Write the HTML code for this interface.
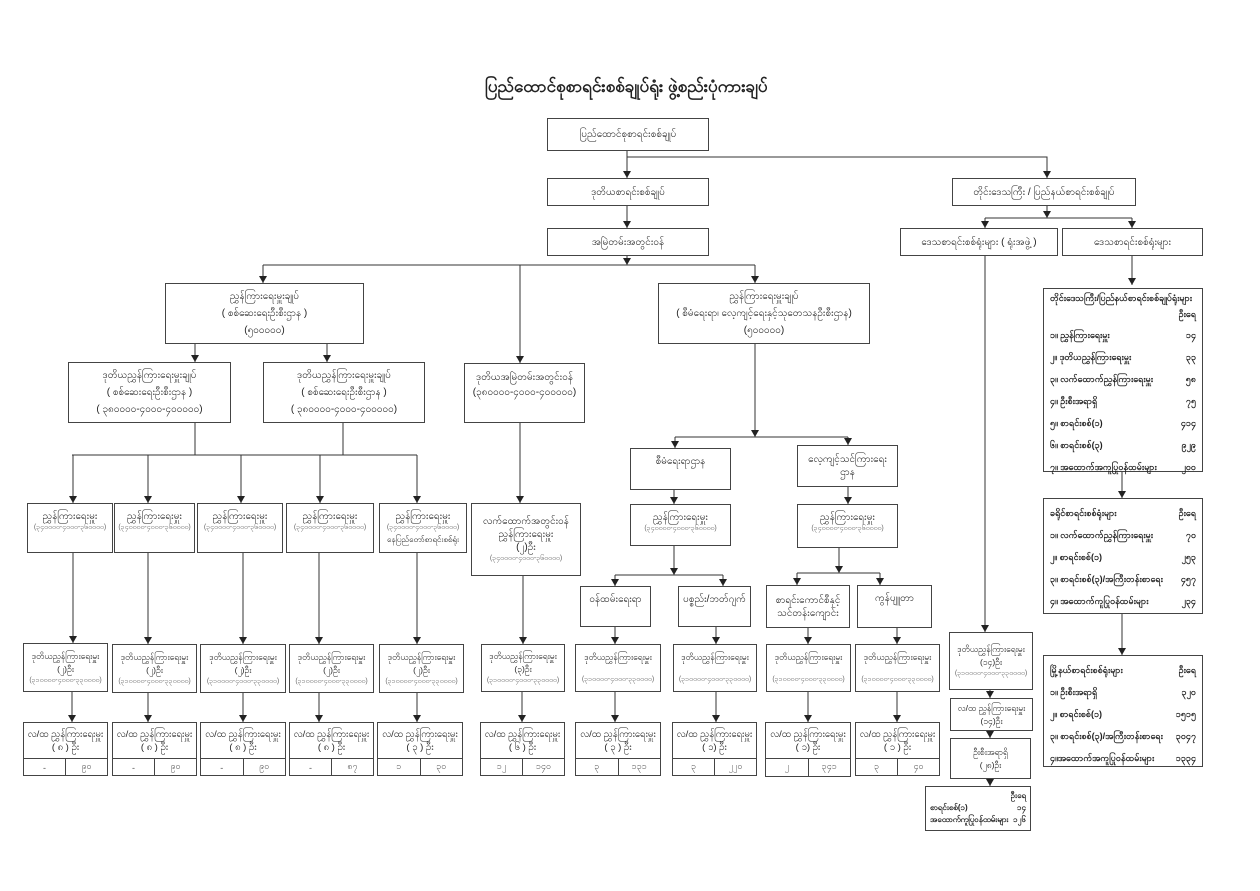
<!DOCTYPE html>
<html><head><meta charset="utf-8"><style>
body{margin:0;width:1260px;height:891px;background:#fff;position:relative;overflow:hidden;font-family:"Liberation Sans","Noto Sans CJK SC",sans-serif;color:#222}
.b{position:absolute;border:1px solid #444;box-sizing:border-box;display:flex;flex-direction:column;align-items:center;justify-content:center;text-align:center;font-size:10px;line-height:13px;background:#fff}
.b.tall{line-height:17px}
.s{font-size:7px;color:#666;line-height:10px}
.t{position:absolute;border:1px solid #444;box-sizing:border-box;font-size:9.5px;font-weight:bold;padding:4px 6px;background:#fff}
.r{display:flex;justify-content:space-between;height:22px;align-items:center}
.ls{position:absolute;box-sizing:border-box;border:1px solid #444;font-size:9.5px;background:#fff}
.ls .top{height:35px;display:flex;flex-direction:column;align-items:center;justify-content:center;text-align:center;line-height:13px;border-bottom:1px solid #444}
.ls .bot{display:flex;height:17px;font-size:9px;color:#555}
.ls .bot div{flex:1;display:flex;align-items:center;justify-content:center}
.ls .bot div:first-child{border-right:1px solid #444}
</style></head><body>
<svg width="1260" height="891" style="position:absolute;left:0;top:0">
<defs>
<marker id="d" markerWidth="8" markerHeight="8" refX="4" refY="7" markerUnits="userSpaceOnUse"><path d="M0,0 L8,0 L4,7 z" fill="#222"/></marker></defs>
<g stroke="#333" stroke-width="1" fill="none">
<path d="M627,150V178" marker-end="url(#d)"/><path d="M627,157H1047V178" marker-end="url(#d)"/>
<path d="M627,205V228" marker-end="url(#d)"/>
<path d="M1047,205V218" marker-end="url(#d)"/><path d="M985,218H1132"/><path d="M985,218V228" marker-end="url(#d)"/><path d="M1132,218V228" marker-end="url(#d)"/>
<path d="M627,255V265" marker-end="url(#d)"/><path d="M263,265H755"/><path d="M263,265V283" marker-end="url(#d)"/><path d="M520,265V363" marker-end="url(#d)"/><path d="M755,265V283" marker-end="url(#d)"/>
<path d="M195,343V362" marker-end="url(#d)"/><path d="M327,343V362" marker-end="url(#d)"/>
<path d="M195,422V455"/><path d="M343,422V455"/><path d="M72,455H417"/>
<path d="M73,455V503" marker-end="url(#d)"/><path d="M148,455V503" marker-end="url(#d)"/><path d="M241,455V503" marker-end="url(#d)"/><path d="M320,455V503" marker-end="url(#d)"/><path d="M417,455V503" marker-end="url(#d)"/>
<path d="M520,422V503" marker-end="url(#d)"/>
<path d="M755,344V437" marker-end="url(#d)"/><path d="M675,437H848"/><path d="M675,437V448" marker-end="url(#d)"/><path d="M848,437V445" marker-end="url(#d)"/>
<path d="M674,489V504" marker-end="url(#d)"/><path d="M848,486V504" marker-end="url(#d)"/>
<path d="M674,545V575" marker-end="url(#d)"/><path d="M615,575H723"/><path d="M615,575V586" marker-end="url(#d)"/><path d="M723,575V586" marker-end="url(#d)"/>
<path d="M839,547V573" marker-end="url(#d)"/><path d="M797,573H880"/><path d="M797,573V585" marker-end="url(#d)"/><path d="M880,573V585" marker-end="url(#d)"/>
<path d="M73,552V643" marker-end="url(#d)"/><path d="M148,552V644" marker-end="url(#d)"/><path d="M243,552V644" marker-end="url(#d)"/><path d="M319,552V644" marker-end="url(#d)"/><path d="M417,552V644" marker-end="url(#d)"/>
<path d="M523,575V644" marker-end="url(#d)"/><path d="M615,626V644" marker-end="url(#d)"/><path d="M716,626V644" marker-end="url(#d)"/><path d="M808,627V644" marker-end="url(#d)"/><path d="M897,627V644" marker-end="url(#d)"/>
<path d="M72,691V722" marker-end="url(#d)"/><path d="M148,692V722" marker-end="url(#d)"/><path d="M243,692V722" marker-end="url(#d)"/><path d="M319,692V722" marker-end="url(#d)"/><path d="M417,692V722" marker-end="url(#d)"/>
<path d="M522,691V722" marker-end="url(#d)"/><path d="M615,691V722" marker-end="url(#d)"/><path d="M716,691V722" marker-end="url(#d)"/><path d="M808,691V722" marker-end="url(#d)"/><path d="M897,691V722" marker-end="url(#d)"/>
<path d="M985,255V632" marker-end="url(#d)"/><path d="M990,690V698" marker-end="url(#d)"/><path d="M990,730V738" marker-end="url(#d)"/><path d="M990,778V786" marker-end="url(#d)"/>
<path d="M1132,255V285" marker-end="url(#d)"/><path d="M1122,471V498" marker-end="url(#d)"/><path d="M1122,613V655" marker-end="url(#d)"/>
</g></svg>

<div style="position:absolute;left:485px;top:76px;font-size:17px;font-weight:bold;font-family:'Liberation Sans',sans-serif">ပြည်ထောင်စုစာရင်းစစ်ချုပ်ရုံး ဖွဲ့စည်းပုံကားချပ်</div>

<div class="b" style="left:547px;top:118px;width:162px;height:33px">ပြည်ထောင်စုစာရင်းစစ်ချုပ်</div>
<div class="b" style="left:547px;top:178px;width:162px;height:28px">ဒုတိယစာရင်းစစ်ချုပ်</div>
<div class="b" style="left:547px;top:228px;width:162px;height:28px">အမြဲတမ်းအတွင်းဝန်</div>
<div class="b" style="left:952px;top:178px;width:184px;height:28px">တိုင်းဒေသကြီး / ပြည်နယ်စာရင်းစစ်ချုပ်</div>
<div class="b" style="left:900px;top:228px;width:158px;height:28px">ဒေသစာရင်းစစ်ရုံးများ ( ရုံးအဖွဲ့ )</div>
<div class="b" style="left:1062px;top:228px;width:141px;height:28px">ဒေသစာရင်းစစ်ရုံးများ</div>

<div class="b tall" style="left:165px;top:283px;width:199px;height:61px">ညွှန်ကြားရေးမှူးချုပ်<br>( စစ်ဆေးရေးဦးစီးဌာန )<br>(၅၀၀၀၀၀)</div>
<div class="b tall" style="left:658px;top:283px;width:212px;height:61px">ညွှန်ကြားရေးမှူးချုပ်<br>( စီမံရေးရာ၊ လေ့ကျင့်ရေးနှင့်သုတေသနဦးစီးဌာန)<br>(၅၀၀၀၀၀)</div>

<div class="b tall" style="left:68px;top:362px;width:163px;height:61px">ဒုတိယညွှန်ကြားရေးမှူးချုပ်<br>( စစ်ဆေးရေးဦးစီးဌာန )<br>( ၃၈၀၀၀၀-၄၀၀၀-၄၀၀၀၀၀)</div>
<div class="b tall" style="left:263px;top:362px;width:162px;height:61px">ဒုတိယညွှန်ကြားရေးမှူးချုပ်<br>( စစ်ဆေးရေးဦးစီးဌာန )<br>( ၃၈၀၀၀၀-၄၀၀၀-၄၀၀၀၀၀)</div>
<div class="b" style="left:464px;top:363px;width:121px;height:60px;justify-content:flex-start;padding-top:6px;line-height:15px">ဒုတိယအမြဲတမ်းအတွင်းဝန်<br>(၃၈၀၀၀၀-၄၀၀၀-၄၀၀၀၀၀)</div>

<div class="b" style="left:27px;top:503px;width:86px;height:50px;justify-content:flex-start;padding-top:6px">ညွှန်ကြားရေးမှူး<span class="s">(၃၄၀၀၀၀-၄၀၀၀-၃၆၀၀၀၀)</span></div>
<div class="b" style="left:114px;top:503px;width:81px;height:50px;justify-content:flex-start;padding-top:6px">ညွှန်ကြားရေးမှူး<span class="s">(၃၄၀၀၀၀-၄၀၀၀-၃၆၀၀၀၀)</span></div>
<div class="b" style="left:197px;top:503px;width:86px;height:50px;justify-content:flex-start;padding-top:6px">ညွှန်ကြားရေးမှူး<span class="s">(၃၄၀၀၀၀-၄၀၀၀-၃၆၀၀၀၀)</span></div>
<div class="b" style="left:286px;top:503px;width:88px;height:50px;justify-content:flex-start;padding-top:6px">ညွှန်ကြားရေးမှူး<span class="s">(၃၄၀၀၀၀-၄၀၀၀-၃၆၀၀၀၀)</span></div>
<div class="b" style="left:379px;top:503px;width:88px;height:50px;justify-content:flex-start;padding-top:6px">ညွှန်ကြားရေးမှူး<span class="s">(၃၄၀၀၀၀-၄၀၀၀-၃၆၀၀၀၀)</span><span style="font-size:8px">နေပြည်တော်စာရင်းစစ်ရုံး</span></div>

<div class="b" style="left:471px;top:503px;width:110px;height:73px">လက်ထောက်အတွင်းဝန်<br>ညွှန်ကြားရေးမှူး<br>(၂)ဦး<span class="s">(၃၄၀၀၀၀-၄၀၀၀-၃၆၀၀၀၀)</span></div>

<div class="b" style="left:630px;top:448px;width:101px;height:42px;justify-content:flex-start;padding-top:6px">စီမံရေးရာဌာန</div>
<div class="b" style="left:797px;top:445px;width:101px;height:42px">လေ့ကျင့်သင်ကြားရေး<br>ဌာန</div>
<div class="b" style="left:630px;top:504px;width:101px;height:42px;justify-content:flex-start;padding-top:6px">ညွှန်ကြားရေးမှူး<span class="s">(၃၄၀၀၀၀-၄၀၀၀-၃၆၀၀၀၀)</span></div>
<div class="b" style="left:797px;top:504px;width:101px;height:44px;justify-content:flex-start;padding-top:6px">ညွှန်ကြားရေးမှူး<span class="s">(၃၄၀၀၀၀-၄၀၀၀-၃၆၀၀၀၀)</span></div>

<div class="b" style="left:580px;top:586px;width:71px;height:41px;justify-content:flex-start;padding-top:6px">ဝန်ထမ်းရေးရာ</div>
<div class="b" style="left:678px;top:586px;width:73px;height:41px;justify-content:flex-start;padding-top:6px">ပစ္စည်း/ဘတ်ဂျက်</div>
<div class="b" style="left:766px;top:585px;width:84px;height:43px">စာရင်းကောင်စီနှင့်<br>သင်တန်းကျောင်း</div>
<div class="b" style="left:857px;top:585px;width:75px;height:43px;justify-content:flex-start;padding-top:6px">ကွန်ပျူတာ</div>

<div class="b" style="left:23px;top:643px;width:85px;height:49px;font-size:8.5px">ဒုတိယညွှန်ကြားရေးမှူး<br>(၂)ဦး<span class="s">(၃၁၀၀၀၀-၄၀၀၀-၃၃၀၀၀၀)</span></div>
<div class="b" style="left:112px;top:644px;width:85px;height:49px;font-size:8.5px">ဒုတိယညွှန်ကြားရေးမှူး<br>(၂)ဦး<span class="s">(၃၁၀၀၀၀-၄၀၀၀-၃၃၀၀၀၀)</span></div>
<div class="b" style="left:200px;top:644px;width:86px;height:49px;font-size:8.5px">ဒုတိယညွှန်ကြားရေးမှူး<br>(၂)ဦး<span class="s">(၃၁၀၀၀၀-၄၀၀၀-၃၃၀၀၀၀)</span></div>
<div class="b" style="left:289px;top:644px;width:85px;height:49px;font-size:8.5px">ဒုတိယညွှန်ကြားရေးမှူး<br>(၂)ဦး<span class="s">(၃၁၀၀၀၀-၄၀၀၀-၃၃၀၀၀၀)</span></div>
<div class="b" style="left:379px;top:644px;width:85px;height:49px;font-size:8.5px">ဒုတိယညွှန်ကြားရေးမှူး<br>(၂)ဦး<span class="s">(၃၁၀၀၀၀-၄၀၀၀-၃၃၀၀၀၀)</span></div>
<div class="b" style="left:481px;top:644px;width:84px;height:48px;font-size:8.5px">ဒုတိယညွှန်ကြားရေးမှူး<br>(၃)ဦး<span class="s">(၃၁၀၀၀၀-၄၀၀၀-၃၃၀၀၀၀)</span></div>
<div class="b" style="left:575px;top:644px;width:86px;height:48px;font-size:8.5px;justify-content:space-around">ဒုတိယညွှန်ကြားရေးမှူး<span class="s">(၃၁၀၀၀၀-၄၀၀၀-၃၃၀၀၀၀)</span></div>
<div class="b" style="left:673px;top:644px;width:84px;height:48px;font-size:8.5px;justify-content:space-around">ဒုတိယညွှန်ကြားရေးမှူး<span class="s">(၃၁၀၀၀၀-၄၀၀၀-၃၃၀၀၀၀)</span></div>
<div class="b" style="left:766px;top:644px;width:85px;height:48px;font-size:8.5px;justify-content:space-around">ဒုတိယညွှန်ကြားရေးမှူး<span class="s">(၃၁၀၀၀၀-၄၀၀၀-၃၃၀၀၀၀)</span></div>
<div class="b" style="left:855px;top:644px;width:85px;height:48px;font-size:8.5px;justify-content:space-around">ဒုတိယညွှန်ကြားရေးမှူး<span class="s">(၃၁၀၀၀၀-၄၀၀၀-၃၃၀၀၀၀)</span></div>

<div class="ls" style="left:23px;top:722px;width:85px;height:54px"><div class="top">လ/ထ ညွှန်ကြားရေးမှူး<br>( ၈ ) ဦး</div><div class="bot"><div>-</div><div>၉၀</div></div></div>
<div class="ls" style="left:112px;top:722px;width:85px;height:54px"><div class="top">လ/ထ ညွှန်ကြားရေးမှူး<br>( ၈ ) ဦး</div><div class="bot"><div>-</div><div>၉၀</div></div></div>
<div class="ls" style="left:200px;top:722px;width:86px;height:54px"><div class="top">လ/ထ ညွှန်ကြားရေးမှူး<br>( ၈ ) ဦး</div><div class="bot"><div>-</div><div>၉၀</div></div></div>
<div class="ls" style="left:289px;top:722px;width:85px;height:54px"><div class="top">လ/ထ ညွှန်ကြားရေးမှူး<br>( ၈ ) ဦး</div><div class="bot"><div>-</div><div>၈၇</div></div></div>
<div class="ls" style="left:377px;top:722px;width:86px;height:54px"><div class="top">လ/ထ ညွှန်ကြားရေးမှူး<br>( ၃ ) ဦး</div><div class="bot"><div>၁</div><div>၃၀</div></div></div>
<div class="ls" style="left:480px;top:722px;width:85px;height:54px"><div class="top">လ/ထ ညွှန်ကြားရေးမှူး<br>( ၆ ) ဦး</div><div class="bot"><div>၁၂</div><div>၁၄၀</div></div></div>
<div class="ls" style="left:575px;top:722px;width:86px;height:54px"><div class="top">လ/ထ ညွှန်ကြားရေးမှူး<br>( ၃ ) ဦး</div><div class="bot"><div>၃</div><div>၁၃၁</div></div></div>
<div class="ls" style="left:672px;top:722px;width:85px;height:54px"><div class="top">လ/ထ ညွှန်ကြားရေးမှူး<br>( ၁) ဦး</div><div class="bot"><div>၃</div><div>၂၂၀</div></div></div>
<div class="ls" style="left:765px;top:722px;width:86px;height:55px"><div class="top">လ/ထ ညွှန်ကြားရေးမှူး<br>( ၁) ဦး</div><div class="bot"><div>၂</div><div>၃၄၁</div></div></div>
<div class="ls" style="left:855px;top:722px;width:85px;height:54px"><div class="top">လ/ထ ညွှန်ကြားရေးမှူး<br>( ၁ ) ဦး</div><div class="bot"><div>၃</div><div>၄၀</div></div></div>

<div class="b" style="left:949px;top:632px;width:84px;height:58px;font-size:8.5px">ဒုတိယညွှန်ကြားရေးမှူး<br>(၁၄)ဦး<span class="s">(၃၁၀၀၀၀-၄၀၀၀-၃၃၀၀၀၀)</span></div>
<div class="b" style="left:950px;top:698px;width:83px;height:33px;font-size:8.5px">လ/ထ ညွှန်ကြားရေးမှူး<br>(၁၄)ဦး</div>
<div class="b" style="left:950px;top:738px;width:81px;height:41px;font-size:8.5px">ဦးစီးအရာရှိ<br>(၂၈)ဦး</div>
<div class="t" style="left:925px;top:786px;width:106px;height:45px;font-size:8px;padding:3px 4px;line-height:12px"><div style="text-align:right">ဦးရေ</div><div style="display:flex;justify-content:space-between"><span>စာရင်းစစ်(၁)</span><span>၁၄</span></div><div style="display:flex;justify-content:space-between"><span>အထောက်ကူပြုဝန်ထမ်းများ</span><span>၁၂၆</span></div></div>

<div class="t" style="left:1043px;top:288px;width:160px;height:184px;font-size:9px">
<div style="height:16px">တိုင်းဒေသကြီး/ပြည်နယ်စာရင်းစစ်ချုပ်ရုံးများ</div>
<div style="text-align:right;height:16px">ဦးရေ</div>
<div class="r"><span>၁။ ညွှန်ကြားရေးမှူး</span><span>၁၄</span></div>
<div class="r"><span>၂။ ဒုတိယညွှန်ကြားရေးမှူး</span><span>၃၃</span></div>
<div class="r"><span>၃။ လက်ထောက်ညွှန်ကြားရေးမှူး</span><span>၅၈</span></div>
<div class="r"><span>၄။ ဦးစီးအရာရှိ</span><span>၇၅</span></div>
<div class="r"><span>၅။ စာရင်းစစ်(၁)</span><span>၄၁၄</span></div>
<div class="r"><span>၆။ စာရင်းစစ်(၃)</span><span>၉၂၉</span></div>
<div class="r"><span>၇။ အထောက်အကူပြုဝန်ထမ်းများ</span><span>၂၀၀</span></div>
</div>
<div class="t" style="left:1043px;top:498px;width:160px;height:116px;font-size:9px">
<div class="r"><span>ခရိုင်စာရင်းစစ်ရုံးများ</span><span>ဦးရေ</span></div>
<div class="r"><span>၁။ လက်ထောက်ညွှန်ကြားရေးမှူး</span><span>၇၀</span></div>
<div class="r"><span>၂။ စာရင်းစစ်(၁)</span><span>၂၅၃</span></div>
<div class="r"><span>၃။ စာရင်းစစ်(၃)/အကြီးတန်းစာရေး</span><span>၄၅၇</span></div>
<div class="r"><span>၄။ အထောက်ကူပြုဝန်ထမ်းများ</span><span>၂၃၄</span></div>
</div>
<div class="t" style="left:1043px;top:655px;width:160px;height:112px;font-size:9px">
<div class="r"><span>မြို့နယ်စာရင်းစစ်ရုံးများ</span><span>ဦးရေ</span></div>
<div class="r"><span>၁။ ဦးစီးအရာရှိ</span><span>၃၂၀</span></div>
<div class="r"><span>၂။ စာရင်းစစ်(၁)</span><span>၁၅၁၅</span></div>
<div class="r"><span>၃။ စာရင်းစစ်(၃)/အကြီးတန်းစာရေး</span><span>၃၀၄၇</span></div>
<div class="r"><span>၄။အထောက်အကူပြုဝန်ထမ်းများ</span><span>၁၃၃၄</span></div>
</div>
</body></html>
